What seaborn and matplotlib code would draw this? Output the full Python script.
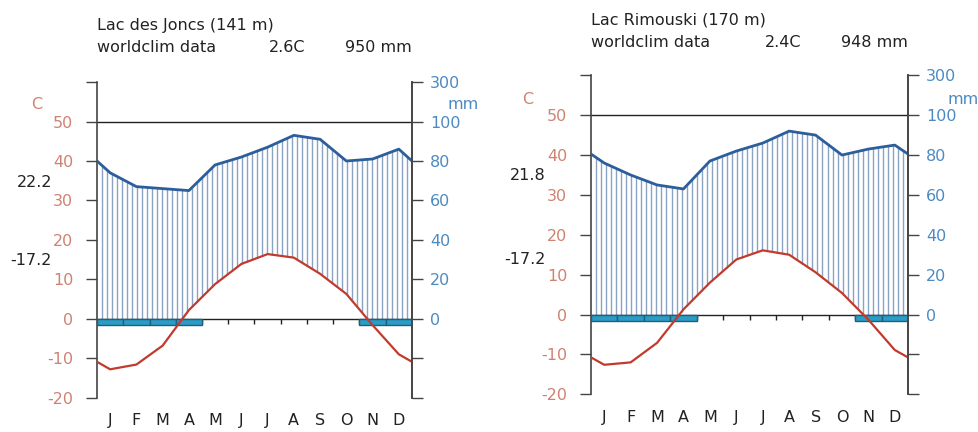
import numpy as np
import pandas as pd
import matplotlib
matplotlib.use("Agg")
import matplotlib.pyplot as plt
import seaborn as sns

# Monthly data
months = ['J', 'F', 'M', 'A', 'M', 'J', 'J', 'A', 'S', 'O', 'N', 'D']

joncs_temp = [-12.8, -11.6, -6.8, 2.2, 8.8, 13.9, 16.4, 15.5, 11.4, 6.3, -1.6, -9.0]
joncs_prec = [74, 67, 66, 65, 78, 82, 87, 93, 91, 80, 81, 86]
joncs_info = ("Lac des Joncs (141 m)", "2.6C", "950 mm", "22.2", "-17.2")

rimouski_temp = [-12.6, -12.0, -7.1, 1.3, 8.0, 13.8, 16.1, 15.0, 10.6, 5.4, -1.3, -8.9]
rimouski_prec = [76, 70, 65, 63, 77, 82, 86, 92, 90, 80, 83, 85]
rimouski_info = ("Lac Rimouski (170 m)", "2.4C", "948 mm", "21.8", "-17.2")

frost_months = [0, 1, 2, 3, 10, 11]

temp_ticks = [-20, -10, 0, 10, 20, 30, 40, 50, 60]
temp_labels = ['-20', '-10', '0', '10', '20', '30', '40', '50', '']
prec_labels = ['', '', '0', '20', '40', '60', '80', '100', '300']

RED = '#c23a2c'
BLUE = '#2c5e9c'
HATCH = '#8aa3c4'
TLAB = '#cf8272'
PLAB = '#4c8ac2'
SPINE = '#444444'

sns.set_style("white")
plt.rcParams['font.family'] = ['DejaVu Sans']


def prec_scale(p):
    p = np.asarray(p, dtype=float)
    return np.where(p <= 100, p / 2.0, 50 + (p - 100) / 20.0)


def draw_panel(ax, temp, prec):
    temp = np.asarray(temp, dtype=float)
    prec = prec_scale(prec)
    # extend the curves to the plot edges (Dec/Jan mean)
    x_ext = np.concatenate([[0], np.arange(12) + 0.5, [12]])
    t_ext = np.concatenate([[(temp[-1] + temp[0]) / 2], temp, [(temp[-1] + temp[0]) / 2]])
    p_ext = np.concatenate([[(prec[-1] + prec[0]) / 2], prec, [(prec[-1] + prec[0]) / 2]])

    # humid period: vertical hatching between curves
    xs = np.linspace(0, 12, 64)[1:]
    lo = np.maximum(np.interp(xs, x_ext, t_ext), 0)
    hi = np.interp(xs, x_ext, p_ext)
    ax.vlines(xs, lo, hi, color=HATCH, lw=1.0, zorder=1)

    ax.axhline(0, color='#222222', lw=1.0, zorder=2)
    ax.axhline(50, color='#222222', lw=1.0, zorder=2)

    # month ticks on the zero line
    ax.vlines(np.arange(1, 12), -1.3, 0, color='#222222', lw=1.0, zorder=2)

    # frost months
    fm = np.array(frost_months)
    ax.bar(fm + 0.5, -1.5, width=1.0, bottom=0, color='#2a9cc6',
           edgecolor='#1d5f7c', lw=1.0, zorder=3)

    df_t = pd.DataFrame({'x': x_ext, 'y': t_ext})
    df_p = pd.DataFrame({'x': x_ext, 'y': p_ext})
    sns.lineplot(data=df_p, x='x', y='y', ax=ax, color=BLUE, lw=2.0, zorder=4)
    sns.lineplot(data=df_t, x='x', y='y', ax=ax, color=RED, lw=1.6, zorder=5)

    ax.set_xlim(0, 12)
    ax.set_ylim(-20, 60)
    ax.set_xlabel('')
    ax.set_ylabel('')
    ax.set_xticks(np.arange(12) + 0.5)
    ax.set_xticklabels(months, fontsize=11.5, color='#222222')
    ax.tick_params(axis='x', length=0, pad=11)
    ax.set_yticks(temp_ticks)
    ax.set_yticklabels(temp_labels, fontsize=11.5)
    ax.tick_params(axis='y', length=8, width=1.0, color=SPINE,
                   labelcolor=TLAB, pad=9, left=True)
    for s in ['top', 'bottom']:
        ax.spines[s].set_visible(False)
    for s in ['left', 'right']:
        ax.spines[s].set_color(SPINE)
        ax.spines[s].set_linewidth(1.2)
        ax.spines[s].set_visible(True)

    ax2 = ax.twinx()
    ax2.set_ylim(-20, 60)
    ax2.set_yticks(temp_ticks)
    ax2.set_yticklabels(prec_labels, fontsize=11.5)
    ax2.tick_params(axis='y', length=8, width=1.0, color=SPINE,
                    labelcolor=PLAB, pad=5, right=True)
    for s in ['top', 'bottom', 'left']:
        ax2.spines[s].set_visible(False)
    ax2.spines['right'].set_color(SPINE)
    ax2.spines['right'].set_linewidth(1.2)


fig = plt.figure(figsize=(9.79, 4.32), dpi=100)
ax_l = fig.add_axes([0.0991, 0.0794, 0.3217, 0.7306])
ax_r = fig.add_axes([0.6037, 0.0873, 0.3238, 0.7384])

draw_panel(ax_l, joncs_temp, joncs_prec)
draw_panel(ax_r, rimouski_temp, rimouski_prec)

TXT = '#222222'
fs = 11.5

# left panel texts
fig.text(0.0991, 0.942, joncs_info[0], fontsize=fs, color=TXT, va='center')
fig.text(0.0991, 0.889, "worldclim data", fontsize=fs, color=TXT, va='center')
fig.text(0.3115, 0.889, joncs_info[1], fontsize=fs, color=TXT, va='center', ha='right')
fig.text(0.4208, 0.889, joncs_info[2], fontsize=fs, color=TXT, va='center', ha='right')
fig.text(0.0378, 0.759, "C", fontsize=11.5, color=TLAB, va='center', ha='center')
fig.text(0.473, 0.759, "mm", fontsize=11.5, color=PLAB, va='center', ha='center')
fig.text(0.053, 0.577, joncs_info[3], fontsize=11.5, color=TXT, va='center', ha='right')
fig.text(0.053, 0.396, joncs_info[4], fontsize=11.5, color=TXT, va='center', ha='right')

# right panel texts
fig.text(0.6037, 0.954, rimouski_info[0], fontsize=fs, color=TXT, va='center')
fig.text(0.6037, 0.902, "worldclim data", fontsize=fs, color=TXT, va='center')
fig.text(0.819, 0.902, rimouski_info[1], fontsize=fs, color=TXT, va='center', ha='right')
fig.text(0.9275, 0.902, rimouski_info[2], fontsize=fs, color=TXT, va='center', ha='right')
fig.text(0.539, 0.770, "C", fontsize=11.5, color=TLAB, va='center', ha='center')
fig.text(0.984, 0.769, "mm", fontsize=11.5, color=PLAB, va='center', ha='center')
fig.text(0.557, 0.593, rimouski_info[3], fontsize=11.5, color=TXT, va='center', ha='right')
fig.text(0.557, 0.400, rimouski_info[4], fontsize=11.5, color=TXT, va='center', ha='right')

fig.savefig("out.png", dpi=100)
